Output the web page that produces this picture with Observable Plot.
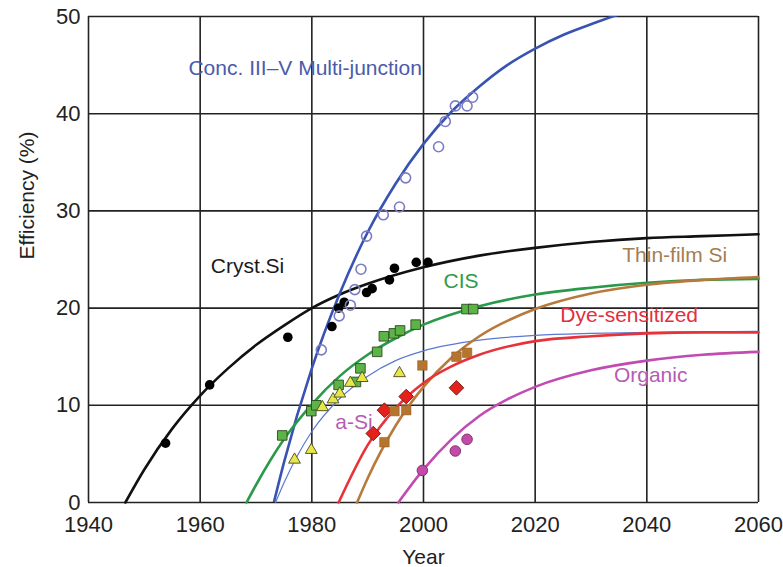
<!DOCTYPE html>
<html>
<head>
<meta charset="utf-8">
<script src="https://cdn.jsdelivr.net/npm/d3@7"></script>
<script src="https://cdn.jsdelivr.net/npm/@observablehq/plot@0.6"></script>
<style>
  html, body { margin: 0; padding: 0; background: #fff; }
  #chart svg { display: block; }
</style>
</head>
<body>
<div id="chart"></div>
<script>
// ---------- tick labels ----------
const xTicks = [1940, 1960, 1980, 2000, 2020, 2040, 2060];
const yTicks = [0, 10, 20, 30, 40, 50];

// ---------- measured points ----------
const crystSiYears = [1953.8, 1961.7, 1975.7, 1983.6, 1984.8, 1985.8, 1989.8, 1990.8, 1993.9, 1994.8, 1998.7, 2000.8];
const crystSiEff   = [6.1, 12.1, 17.0, 18.1, 20.0, 20.6, 21.6, 22.0, 22.9, 24.1, 24.7, 24.7];

const multiYears = [1981.7, 1984.9, 1986.9, 1987.7, 1988.8, 1989.8, 1992.8, 1995.7, 1996.8, 2002.7, 2003.9, 2005.7, 2007.8, 2008.8];
const multiEff   = [15.7, 19.2, 20.3, 21.9, 24.0, 27.4, 29.6, 30.4, 33.4, 36.6, 39.2, 40.8, 40.8, 41.7];

const cisYears = [1974.7, 1979.9, 1980.8, 1984.8, 1987.9, 1988.7, 1991.7, 1992.9, 1994.7, 1995.8, 1998.6, 2007.7, 2008.9];
const cisEff   = [6.9, 9.4, 10.0, 12.1, 12.4, 13.8, 15.5, 17.1, 17.4, 17.7, 18.3, 19.9, 19.9];

const aSiYears = [1976.9, 1979.9, 1981.9, 1983.8, 1985.0, 1986.9, 1989.0, 1995.7];
const aSiEff   = [4.4, 5.4, 9.8, 10.6, 11.2, 12.3, 12.8, 13.3];

const dyeYears = [1991.0, 1993.0, 1996.9, 2005.9];
const dyeEff   = [7.1, 9.5, 10.9, 11.8];

const tfSiYears = [1993.0, 1994.8, 1996.9, 1999.8, 2005.9, 2007.8];
const tfSiEff   = [6.2, 9.4, 9.5, 14.1, 15.0, 15.4];

const orgYears = [1999.8, 2005.7, 2007.8];
const orgEff   = [3.3, 5.3, 6.5];

// ---------- trend curves ----------
const crystSiCurveYears = [1946.6, 1950, 1955, 1960, 1965, 1970, 1975, 1980, 1985, 1990, 2000, 2010, 2020, 2030, 2040, 2050, 2060];
const crystSiCurveEff   = [0, 3.4, 7.6, 11.0, 13.8, 16.2, 18.2, 20.0, 21.4, 22.5, 24.2, 25.4, 26.2, 26.8, 27.2, 27.4, 27.6];

const multiCurveYears = [1973.2, 1975, 1980, 1985, 1990, 1995, 2000, 2005, 2010, 2015, 2020, 2025, 2030, 2035, 2040];
const multiCurveEff   = [0, 4.1, 13.8, 21.5, 27.8, 32.8, 36.9, 40.2, 42.8, 45.0, 46.7, 48.1, 49.2, 50.2, 50.9];

const aSiCurveYears = [1973.5, 1975, 1980, 1985, 1990, 1995, 2000, 2010, 2020, 2030, 2040, 2060];
const aSiCurveEff   = [0, 2.0, 7.3, 10.7, 13.0, 14.6, 15.6, 16.7, 17.2, 17.4, 17.5, 17.6];

const cisCurveYears = [1968.3, 1970, 1975, 1980, 1985, 1990, 1995, 2000, 2010, 2020, 2030, 2040, 2050, 2060];
const cisCurveEff   = [0, 1.8, 6.5, 10.1, 13.0, 15.2, 16.9, 18.3, 20.2, 21.4, 22.1, 22.6, 22.9, 23.0];

const dyeCurveYears = [1984.8, 1990, 1995, 2000, 2005, 2010, 2020, 2030, 2040, 2050, 2060];
const dyeCurveEff   = [0, 5.9, 9.7, 12.3, 14.0, 15.2, 16.6, 17.1, 17.4, 17.5, 17.5];

const tfSiCurveYears = [1988.1, 1990, 1995, 2000, 2005, 2010, 2020, 2030, 2040, 2050, 2060];
const tfSiCurveEff   = [0, 2.5, 7.9, 11.9, 14.9, 17.1, 19.9, 21.5, 22.4, 22.9, 23.2];

const orgCurveYears = [1995.5, 2000, 2005, 2010, 2015, 2020, 2030, 2040, 2050, 2060];
const orgCurveEff   = [0, 3.4, 6.5, 8.9, 10.6, 11.9, 13.6, 14.6, 15.2, 15.5];

// ---------- labels ----------
const labelTexts = ["Conc. III\u2013V Multi-junction", "Cryst.Si", "CIS", "Thin-film Si", "Dye-sensitized", "Organic", "a-Si"];
const labelYears = [1957.9, 1961.9, 2003.6, 2035.6, 2024.5, 2034.1, 1984.2];
const labelEff   = [44.0, 23.6, 22.1, 24.7, 18.6, 12.4, 7.6];
const labelColors = ["#4a5bab", "#1a1a1a", "#2f9a4c", "#a47e50", "#e2303c", "#b55cb5", "#b55cb5"];

const zip = (xs, ys) => xs.map((x, i) => ({x, y: ys[i]}));
const labels = labelTexts.map((t, i) => ({t, x: labelYears[i], y: labelEff[i], c: labelColors[i]}));

const curve = "monotone-x";

const chart = Plot.plot({
  width: 783,
  height: 567,
  marginLeft: 88,
  marginRight: 25,
  marginTop: 16,
  marginBottom: 65,
  style: {fontFamily: "'Liberation Sans', Arial, sans-serif", fontSize: "22px", color: "#222", background: "#fff"},
  x: {domain: [1940, 2060]},
  y: {domain: [0, 50]},
  marks: [
    Plot.ruleX(xTicks, {stroke: "#222", strokeWidth: 1.6}),
    Plot.ruleY(yTicks, {stroke: "#222", strokeWidth: 1.6}),
    Plot.axisX({ticks: xTicks, tickSize: 0, tickPadding: 14, label: null, tickFormat: d => String(d), fontSize: 22}),
    Plot.axisY({ticks: yTicks, tickSize: 0, tickPadding: 8, label: null, fontSize: 22}),
    Plot.text(["Year"], {frameAnchor: "bottom", dy: 61, lineAnchor: "bottom", fontSize: 21, fill: "#222"}),
    Plot.text(["Efficiency (%)"], {frameAnchor: "left", dx: -55, rotate: -90, lineAnchor: "bottom", fontSize: 21, fill: "#222"}),

    // curves
    Plot.line(zip(aSiCurveYears, aSiCurveEff), {x: "x", y: "y", stroke: "#5b78d2", strokeWidth: 1.2, curve}),
    Plot.line(zip(crystSiCurveYears, crystSiCurveEff), {x: "x", y: "y", stroke: "#111", strokeWidth: 2.6, curve}),
    Plot.line(zip(multiCurveYears, multiCurveEff), {x: "x", y: "y", stroke: "#3953b3", strokeWidth: 2.6, curve, clip: true}),
    Plot.line(zip(cisCurveYears, cisCurveEff), {x: "x", y: "y", stroke: "#2a9a4a", strokeWidth: 2.6, curve}),
    Plot.line(zip(tfSiCurveYears, tfSiCurveEff), {x: "x", y: "y", stroke: "#b87a3c", strokeWidth: 2.6, curve}),
    Plot.line(zip(dyeCurveYears, dyeCurveEff), {x: "x", y: "y", stroke: "#e8323a", strokeWidth: 2.6, curve}),
    Plot.line(zip(orgCurveYears, orgCurveEff), {x: "x", y: "y", stroke: "#c24bb2", strokeWidth: 2.6, curve}),

    // points
    Plot.dot(zip(crystSiYears, crystSiEff), {x: "x", y: "y", r: 4.8, fill: "#000"}),
    Plot.dot(zip(multiYears, multiEff), {x: "x", y: "y", r: 5, fill: "none", stroke: "#7b7dc4", strokeWidth: 1.6}),
    Plot.dot(zip(cisYears, cisEff), {x: "x", y: "y", symbol: "square", r: 5.4, fill: "#5cb447", stroke: "#2b4a20", strokeWidth: 0.9}),
    Plot.dot(zip(aSiYears, aSiEff), {x: "x", y: "y", symbol: "triangle", r: 4.4, fill: "#e6e84a", stroke: "#4a4a20", strokeWidth: 0.9}),
    Plot.dot(zip(dyeYears, dyeEff), {x: "x", y: "y", symbol: "diamond2", r: 6.6, fill: "#e3221c", stroke: "#6e1a12", strokeWidth: 0.9}),
    Plot.dot(zip(tfSiYears, tfSiEff), {x: "x", y: "y", symbol: "square", r: 5.4, fill: "#b5752f", stroke: "#8a5a25", strokeWidth: 0.5}),
    Plot.dot(zip(orgYears, orgEff), {x: "x", y: "y", r: 5.3, fill: "#c34aa8", stroke: "#7a2a6a", strokeWidth: 0.9}),

    // series labels
    Plot.text(labels, {x: "x", y: "y", text: "t", fill: "c", textAnchor: "start", lineAnchor: "bottom", fontSize: 21})
  ]
});

document.getElementById("chart").appendChild(chart);
</script>
</body>
</html>
